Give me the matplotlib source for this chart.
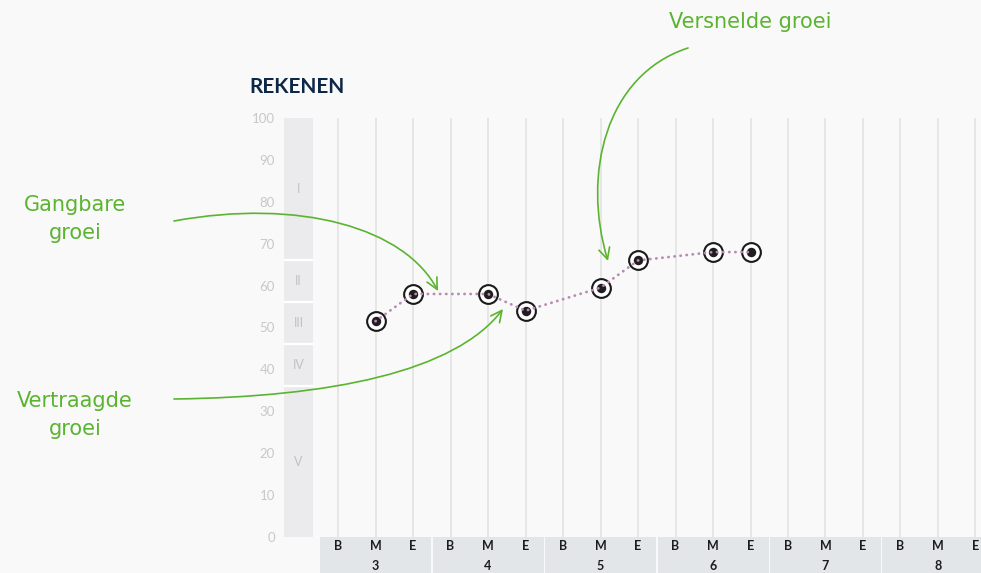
import matplotlib
matplotlib.use("Agg")
import matplotlib.pyplot as plt
from matplotlib.patches import Rectangle, FancyArrowPatch
from matplotlib.path import Path

# ---- data ----
grades = [3, 4, 5, 6, 7, 8]
periods = ["B", "M", "E"]
point_grades = [3, 3, 4, 4, 5, 5, 6, 6]
point_periods = ["M", "E", "M", "E", "M", "E", "M", "E"]
values = [51.5, 58, 58, 54, 59.5, 66, 68, 68]
level_bounds = [100, 66, 56, 46, 36, 0]
level_labels = ["I", "II", "III", "IV", "V"]
yticks = list(range(0, 101, 10))
title = "REKENEN"
ann_gangbare = "Gangbare\ngroei"
ann_vertraagde = "Vertraagde\ngroei"
ann_versnelde = "Versnelde groei"

W, H, DPI = 981, 573, 100
BG = "#f9f9f9"
GREEN = "#5bb430"

fig = plt.figure(figsize=(W / DPI, H / DPI), dpi=DPI, facecolor=BG)
ax = fig.add_axes([284 / W, 36 / H, 697 / W, 419 / H])
ax.set_facecolor(BG)

slot_w = 37.5
x_left = (284 - 338) / slot_w
x_right = (981 - 338) / slot_w
band_right = (313 - 338) / slot_w
ax.set_xlim(x_left, x_right)
ax.set_ylim(0, 100)
for s in ax.spines.values():
    s.set_visible(False)
ax.set_xticks([])
ax.set_yticks(yticks)
ax.set_yticklabels([str(t) for t in yticks], color="#c8c8c8", fontsize=9.5,
                   family="Lato")
ax.tick_params(axis="y", length=0, pad=6.5)

# vertical grid lines
n_slots = len(grades) * len(periods)
for i in range(n_slots):
    ax.axvline(i, color="#e4e4e4", lw=1.3, zorder=1)

# level band
for k, lab in enumerate(level_labels):
    top, bot = level_bounds[k], level_bounds[k + 1]
    ax.add_patch(Rectangle((x_left, bot), band_right - x_left, top - bot,
                           facecolor="#ebebed", edgecolor="none", zorder=1))
    ax.text((x_left + band_right) / 2, (top + bot) / 2, lab, ha="center",
            va="center", color="#c2c2c2", fontsize=9, family="Lato", zorder=2)
for b in level_bounds[1:-1]:
    ax.plot([x_left, band_right], [b, b], color="white", lw=1.6, zorder=2,
            solid_capstyle="butt")

# bottom grade boxes
for gi, g in enumerate(grades):
    x0 = gi * 3 - 0.5
    ax.add_patch(Rectangle((x0 + 0.02, -12), 3 - 0.04, 12, facecolor="#e3e6e9",
                           edgecolor="none", clip_on=False, zorder=1))
    for pi, p in enumerate(periods):
        ax.text(gi * 3 + pi, -2.2, p, ha="center", va="center", fontsize=9,
                fontweight="bold", color="#1c1c1c", family="Lato", clip_on=False)
    ax.text(gi * 3 + 1, -7.0, str(g), ha="center", va="center", fontsize=9,
            fontweight="bold", color="#1c1c1c", family="Lato", clip_on=False)

# data points
xs = [grades.index(g) * 3 + periods.index(p) for g, p in zip(point_grades, point_periods)]
ax.plot(xs, values, ls="none", marker="o", ms=13.5, mfc="white", mec="#1a1a1a",
        mew=1.5, zorder=3)
ax.plot(xs, values, ls="none", marker="o", ms=6.8, mfc="#221d20", mec="none",
        zorder=4)
ax.plot(xs, values, color="#b88cb2", lw=2.0, ls=(0, (0.1, 2.1)),
        dash_capstyle="round", zorder=5)

# title
fig.text(249 / W, 1 - 87 / H, title, ha="left", va="center", fontsize=15,
         fontweight="bold", color="#0d2847", family="Lato")


def px(x, y):
    return (x, H - y)


def curve_arrow(pts):
    verts = [px(*p) for p in pts]
    path = Path(verts, [Path.MOVETO, Path.CURVE4, Path.CURVE4, Path.CURVE4])
    arr = FancyArrowPatch(path=path, arrowstyle="->,head_length=8,head_width=4",
                          color=GREEN, lw=1.2, transform=None, mutation_scale=1)
    fig.add_artist(arr)


curve_arrow([(174, 221), (300, 198), (405, 228), (438, 291)])
curve_arrow([(174, 399), (330, 397), (455, 372), (503, 309)])
curve_arrow([(688, 48), (605, 75), (582, 175), (608, 261)])

afont = dict(color=GREEN, fontsize=15, family="DejaVu Sans", ha="center",
             va="center", linespacing=1.45)
fig.text(75 / W, 1 - 219 / H, ann_gangbare, **afont)
fig.text(75 / W, 1 - 415 / H, ann_vertraagde, **afont)
fig.text(750 / W, 1 - 22 / H, ann_versnelde, **afont)

fig.savefig("out.png", dpi=DPI, facecolor=BG)
